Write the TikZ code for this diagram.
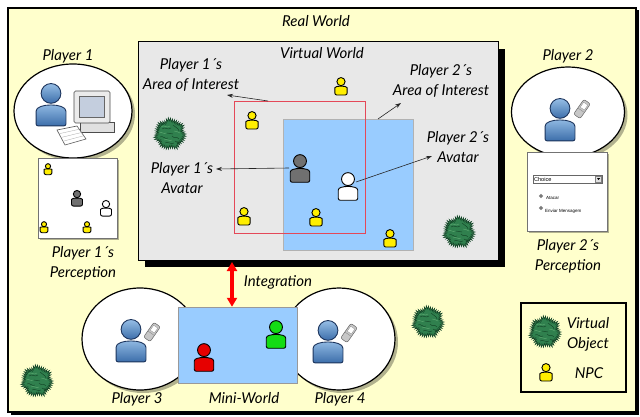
\documentclass[tikz,border=0pt]{standalone}
\usepackage{fontspec}
\setmainfont{Lato}
\newfontfamily\uifont{Liberation Sans}
\usetikzlibrary{arrows.meta,shadows,shapes.geometric,calc}

\definecolor{realbg}{RGB}{255,255,204}
\definecolor{virtbg}{RGB}{232,232,232}
\definecolor{aoiblue}{RGB}{153,204,255}
\definecolor{aoired}{RGB}{228,72,88}
\definecolor{npcyellow}{RGB}{255,238,0}
\definecolor{bushgreen}{RGB}{48,128,78}
\definecolor{bushlight}{RGB}{90,165,110}
\definecolor{bushdark}{RGB}{18,68,38}
\definecolor{avgray}{RGB}{112,112,112}
\definecolor{usertop}{RGB}{150,190,230}
\definecolor{userbot}{RGB}{60,110,170}
\definecolor{userline}{RGB}{28,52,92}
\definecolor{minired}{RGB}{230,0,0}
\definecolor{minigreen}{RGB}{20,220,20}

\tikzset{
  lbl/.style={font=\itshape\fontsize{15}{20}\selectfont, align=center, inner sep=0pt},
  callout/.style={-{Stealth[length=6pt,width=4pt]}, line width=.6pt, black!85},
  integ/.style={{Triangle[length=9pt,width=10pt]}-{Triangle[length=9pt,width=10pt]}, line width=3.2pt, red},
  playercirc/.style={ellipse, draw=black, line width=1.2pt, fill=white, inner sep=0pt,
    drop shadow={fill=black, opacity=.3, shadow xshift=3pt, shadow yshift=-3pt}},
  percbox/.style={rectangle, draw=black!55, line width=.8pt, fill=white, inner sep=0pt,
    drop shadow={fill=black, opacity=.3, shadow xshift=2pt, shadow yshift=-2pt}},
  pics/person/.style={code={
    \path[draw=black, line width=.9pt, rounded corners=2pt, #1]
      (-6.5,9.5) -- (-6.5,4) .. controls (-6.5,-0.5) and (6.5,-0.5) .. (6.5,4) -- (6.5,9.5) -- cycle;
    \path[draw=black, line width=.9pt, #1] (0,-4.6) circle (4.3);
  }},
  pics/phone/.style={code={
    \path[fill=black!22, draw=black!60, line width=.5pt, rounded corners=2pt, rotate=-35] (-4,-9) rectangle (4,9);
    \path[fill=white, draw=black!45, line width=.3pt, rotate=-35] (-2.5,-6.5) rectangle (2.5,-0.5);
    \path[draw=black!50, line width=.3pt, rotate=-35] (-4,1.5) -- (4,1.5);
  }},
  pics/computer/.style={code={
    \path[fill=black!12, draw=black!70, line width=.6pt] (-13,14) rectangle (21,24);
    \path[fill=black!8, draw=black!70, line width=.6pt, rounded corners=1.5pt] (-19,-17) rectangle (17,15);
    \path[fill={rgb,255:red,196;green,206;blue,222}, draw=black!60, line width=.4pt] (-14,-12) rectangle (11,9);
    \path[fill=white, draw=black!65, line width=.6pt] (-36,22) -- (-16,18) -- (-7,31) -- (-28,37) -- cycle;
    \foreach \k in {0.25,0.5,0.75}
      \path[draw=black!35, line width=.3pt] ($(-36,22)!\k!(-28,37)$) -- ($(-16,18)!\k!(-7,31)$);
  }},
  pics/bush/.style={code={
    \path[fill=bushgreen, draw=bushdark, line width=.5pt]
      plot[samples=90, domain=0:356] (\x:{13.8+1.7*cos(45*\x)+0.8*sin(7*\x)+0.5*cos(11*\x)}) -- cycle;
    \path[draw=bushlight, line width=.5pt]
      (-9,-7) .. controls (-6,-10) and (-3,-5) .. (0,-8)
      (-11,-1) .. controls (-8,-3) and (-6,1) .. (-4,-1)
      (4,-3) .. controls (6,-1) and (8,-4) .. (10,-1)
      (-6,6) .. controls (-3,4) and (-1,8) .. (2,6);
    \path[draw=bushdark, line width=.45pt]
      (-8,-5) .. controls (-5,-8) and (-2,-3) .. (1,-6)
      (3,-9) .. controls (5,-6) and (8,-7) .. (9,-3)
      (-10,3) .. controls (-7,1) and (-5,6) .. (-2,4)
      (2,2) .. controls (4,5) and (7,2) .. (9,5)
      (-5,9) .. controls (-2,7) and (1,11) .. (4,9)
      (-3,-1) .. controls (-1,1) and (1,-2) .. (3,0)
      (5,7) .. controls (7,9) and (9,8) .. (10,10)
      (-12,-4) .. controls (-11,-7) and (-9,-8) .. (-7,-10);
  }},
}

\begin{document}
\begin{tikzpicture}[x=1pt, y=-1pt]
\useasboundingbox (0,0) rectangle (640,417);

% ---------- real world frame ----------
\node[rectangle, draw=black, line width=1.3pt, fill=realbg, inner sep=0pt,
      minimum width=628pt, minimum height=404pt,
      drop shadow={fill=black, opacity=1, shadow xshift=2.5pt, shadow yshift=-2.5pt}]
      (real) at (322,210) {};
\node[lbl] (realtxt) at (316,21) {Real World};

% ---------- virtual world ----------
\node[rectangle, draw=black, line width=1pt, fill=virtbg, inner sep=0pt,
      minimum width=360pt, minimum height=218pt,
      drop shadow={fill=black, opacity=1, shadow xshift=7pt, shadow yshift=-7pt}]
      (world) at (318,151) {};
\node[lbl] (worldtxt) at (322,53) {Virtual World};

% areas of interest: the blue one is filled, the red one is an outline on top
\node[rectangle, inner sep=0pt, minimum width=131pt, minimum height=132pt] (aoione) at (300,167.5) {};
\node[rectangle, fill=aoiblue, draw=black!30, line width=.4pt, inner sep=0pt,
      minimum width=130pt, minimum height=131pt] (aoitwo) at (348,184.5) {};
\draw[aoired, line width=1pt] (aoione.north west) rectangle (aoione.south east);

% virtual objects and NPCs
\pic (vobjA) at (170,134) {bush};
\pic (vobjB) at (459,232) {bush};
\pic[scale=.95] (npcA) at (341,86) {person={fill=npcyellow}};
\pic[scale=.95] (npcB) at (252,120) {person={fill=npcyellow}};
\pic[scale=.95] (npcC) at (244,216) {person={fill=npcyellow}};
\pic[scale=.95] (npcD) at (316,217) {person={fill=npcyellow}};
\pic[scale=.95] (npcE) at (390,238) {person={fill=npcyellow}};

% avatars
\pic[scale=1.5] (avone) at (300,168) {person={fill=avgray}};
\pic[scale=1.5] (avtwo) at (348,186) {person={fill=white}};

% labels inside the virtual world
\node[lbl] (aoionetxt) at (191,75) {Player 1´s\\Area of Interest};
\node[lbl] (aoitwotxt) at (441,81) {Player 2´s\\Area of Interest};
\node[lbl] (avonetxt) at (182,178) {Player 1´s\\Avatar};
\node[lbl] (avtwotxt) at (458,147) {Player 2´s\\Avatar};

\coordinate (aoioneA) at (268,101);
\coordinate (aoioneB) at (227,95);
\coordinate (aoitwoA) at (378,119);
\coordinate (aoitwoB) at (401,103);
\coordinate (avoneA) at (289,168);
\coordinate (avoneB) at (216,169);
\coordinate (avtwoA) at (356,182);
\coordinate (avtwoB) at (432,156);
\draw[callout] (aoioneA) -- (aoioneB);
\draw[callout] (aoitwoA) -- (aoitwoB);
\draw[callout] (avoneA) -- (avoneB);
\draw[callout] (avtwoA) -- (avtwoB);

% ---------- player 1 ----------
\node[lbl] (ponetxt) at (68,56) {Player 1};
\node[playercirc, minimum width=118pt, minimum height=94pt] (ponecirc) at (73,111) {};
\pic (pc) at (93,108) {computer};
\pic[scale=2.3] (ponefig) at (51,104) {person={top color=usertop, bottom color=userbot, draw=userline}};

\node[percbox, minimum width=79pt, minimum height=80pt] (percone) at (77.5,198) {};
\pic[scale=.6] (pnpcA) at (48,169) {person={fill=npcyellow}};
\pic[scale=.6] (pnpcB) at (44,227) {person={fill=npcyellow}};
\pic[scale=.6] (pnpcC) at (87,227) {person={fill=npcyellow}};
\pic[scale=.85] (pavone) at (77,198) {person={fill=avgray}};
\pic[scale=.85] (pavtwo) at (106,208) {person={fill=white}};
\node[lbl] (perconetxt) at (83,263) {Player 1´s\\Perception};

% ---------- player 2 ----------
\node[lbl] (ptwotxt) at (568,56) {Player 2};
\node[playercirc, minimum width=113pt, minimum height=90pt] (ptwocirc) at (568,112) {};
\pic[scale=2.3] (ptwofig) at (560,119) {person={top color=usertop, bottom color=userbot, draw=userline}};
\pic (ptwophone) at (582,109) {phone};

\node[percbox, minimum width=80pt, minimum height=79pt] (perctwo) at (567,191.5) {};
\node[rectangle, draw=black!60, fill=white, line width=.4pt, inner sep=0pt,
      minimum width=69pt, minimum height=7.5pt] (choice) at (567.5,179) {};
\node[anchor=west, inner sep=0pt, font=\uifont\fontsize{5.6}{6}\selectfont] (choicetxt)
      at ([xshift=1pt]choice.west) {Choice};
\node[rectangle, draw=black!50, fill=black!12, line width=.3pt, inner sep=0pt,
      minimum width=6pt, minimum height=6pt, anchor=east] (choicebtn) at ([xshift=-.5pt]choice.east) {};
\fill[black] ([xshift=-1.5pt,yshift=.8pt]choicebtn.center) -- ([xshift=1.5pt,yshift=.8pt]choicebtn.center)
      -- ([yshift=-1pt]choicebtn.center) -- cycle;
\node[circle, draw=black!60, fill=white, line width=.3pt, inner sep=0pt, minimum size=3.8pt] (radA) at (541,196) {};
\fill[black] (radA.center) circle (.9);
\node[anchor=west, inner sep=0pt, font=\uifont\fontsize{4.5}{5}\selectfont] (radAtxt) at (546,198) {Atacar};
\node[circle, draw=black!60, fill=white, line width=.3pt, inner sep=0pt, minimum size=3.8pt] (radB) at (541,208) {};
\fill[black] (radB.center) circle (.9);
\node[anchor=west, inner sep=0pt, font=\uifont\fontsize{4.5}{5}\selectfont] (radBtxt) at (545,211) {Enviar Mensagem};
\node[lbl] (perctwotxt) at (568,256) {Player 2´s\\Perception};

% ---------- mini-world with players 3 and 4 ----------
\node[playercirc, minimum width=116pt, minimum height=102pt] (pthreecirc) at (140,339) {};
\node[playercirc, minimum width=112pt, minimum height=102pt] (pfourcirc) at (339,339) {};
\node[rectangle, fill=aoiblue, draw=black!40, line width=.5pt, inner sep=0pt,
      minimum width=119pt, minimum height=76pt] (mini) at (237.5,345) {};
\pic[scale=2.3] (pthreefig) at (131,340) {person={top color=usertop, bottom color=userbot, draw=userline}};
\pic (pthreephone) at (152,332) {phone};
\pic[scale=2.3] (pfourfig) at (328,341) {person={top color=usertop, bottom color=userbot, draw=userline}};
\pic (pfourphone) at (349,333) {phone};
\pic[scale=1.5] (redav) at (204,357) {person={fill=minired}};
\pic[scale=1.5] (greenav) at (276,334) {person={fill=minigreen}};

\node[lbl] (pthreetxt) at (137,399) {Player 3};
\node[lbl] (minitxt) at (244,398) {Mini-World};
\node[lbl] (pfourtxt) at (340,399) {Player 4};

% integration between the mini-world and the virtual world
\coordinate (integtop) at (232,262);
\draw[integ] (integtop) -- (integtop |- mini.north);
\node[lbl] (integtxt) at (278,282) {Integration};

% loose virtual objects in the real world
\pic (vobjC) at (428,322) {bush};
\pic (vobjD) at (37,381) {bush};

% ---------- legend ----------
\node[rectangle, draw=black, line width=1.4pt, inner sep=0pt,
      minimum width=105pt, minimum height=89pt] (legend) at (573.5,347.5) {};
\pic (legbush) at (545,332) {bush};
\pic[scale=.95] (legnpc) at (546,372) {person={fill=npcyellow}};
\node[lbl] (legbushtxt) at (588,334) {Virtual\\Object};
\node[lbl] (legnpctxt) at (589,373) {NPC};

\end{tikzpicture}
\end{document}
